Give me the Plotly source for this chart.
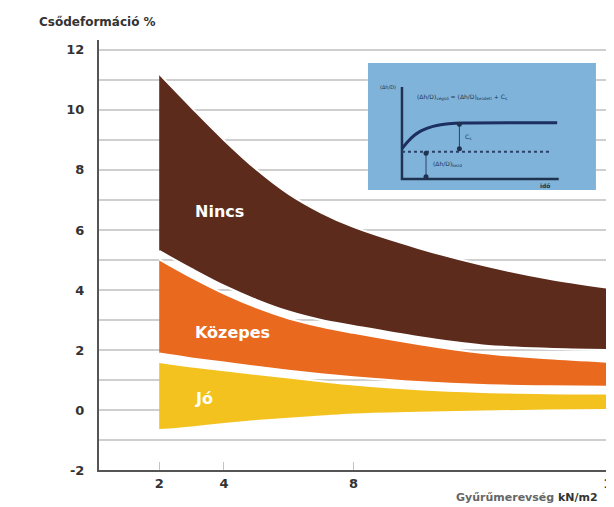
import plotly.graph_objects as go

# ---- main chart data ----
stiffness = [2, 3, 4, 5, 6, 7, 8, 10, 12, 14, 16]
nincs_top = [11.2, 10.08, 9.0, 8.02, 7.2, 6.58, 6.1, 5.4, 4.83, 4.38, 4.05]
nincs_bottom = [5.3, 4.7, 4.14, 3.67, 3.28, 3.0, 2.8, 2.43, 2.15, 2.04, 2.0]
kozepes_top = [5.02, 4.42, 3.88, 3.42, 3.05, 2.78, 2.57, 2.2, 1.9, 1.72, 1.6]
kozepes_bottom = [1.88, 1.72, 1.58, 1.44, 1.31, 1.19, 1.09, 0.93, 0.83, 0.79, 0.77]
jo_top = [1.6, 1.45, 1.32, 1.2, 1.08, 0.96, 0.85, 0.69, 0.6, 0.56, 0.55]
jo_bottom = [-0.67, -0.58, -0.47, -0.37, -0.29, -0.22, -0.15, -0.09, -0.05, -0.02, 0.0]

x_ticks = [2, 4, 8, 16]
x_ticktext = ["2", "4", "8", "16"]
y_ticks = [-2, 0, 2, 4, 6, 8, 10, 12]
y_ticktext = ["-2", "0", "2", "4", "6", "8", "10", "12"]

band_names = ["Jó", "Közepes", "Nincs"]
band_label_pos = [(3.04, 0.38), (3.04, 2.57), (3.04, 6.6)]
band_colors = ["#f3c21f", "#e9691f", "#5c2b1c"]

# ---- inset diagram data ----
inset_axis_x = [0, 0, 10.1]
inset_axis_y = [10, 0, 0]
inset_curve_x = [0, 0.4, 0.8, 1.2, 1.6, 2.0, 2.5, 3.0, 4.0, 10.0]
inset_curve_y = [3.3, 4.1, 4.75, 5.2, 5.5, 5.72, 5.9, 6.0, 6.08, 6.1]
inset_dotted_x = [0, 9.6]
inset_dotted_y = [2.97, 2.97]
inset_cs_x = [3.7, 3.7]
inset_cs_y = [5.95, 3.3]
inset_init_x = [1.55, 1.55]
inset_init_y = [2.8, 0.25]

navy = "#1d2f5e"
fig = go.Figure()

bands = [
    (jo_bottom, jo_top),
    (kozepes_bottom, kozepes_top),
    (nincs_bottom, nincs_top),
]
for (bot, top), color in zip(bands, band_colors):
    fig.add_trace(go.Scatter(x=stiffness, y=bot, mode="lines",
                             line=dict(color="white", width=2, shape="spline"),
                             hoverinfo="skip"))
    fig.add_trace(go.Scatter(x=stiffness, y=top, mode="lines", fill="tonexty",
                             fillcolor=color,
                             line=dict(color="white", width=2, shape="spline"),
                             hoverinfo="skip"))

for name, (lx, ly) in zip(band_names, band_label_pos):
    fig.add_annotation(x=lx, y=ly, xref="x", yref="y", text=name, showarrow=False,
                       xanchor="left", yanchor="middle",
                       font=dict(family="DejaVu Sans", size=16, color="white", weight="bold"))

# inset
fig.add_shape(type="rect", xref="x2", yref="y2", x0=-2.2, x1=12.5, y0=-1.2, y1=12.6,
              fillcolor="#80b3d9", line=dict(width=0), layer="below")
fig.add_trace(go.Scatter(x=inset_axis_x, y=inset_axis_y, xaxis="x2", yaxis="y2", mode="lines",
                         line=dict(color="#1f3350", width=2.5), hoverinfo="skip"))
fig.add_trace(go.Scatter(x=inset_dotted_x, y=inset_dotted_y, xaxis="x2", yaxis="y2", mode="lines",
                         line=dict(color="#2b4068", width=2, dash="dot"), hoverinfo="skip"))
fig.add_trace(go.Scatter(x=inset_curve_x, y=inset_curve_y, xaxis="x2", yaxis="y2", mode="lines",
                         line=dict(color=navy, width=3, shape="spline"), hoverinfo="skip"))
for sx, sy in [(inset_cs_x, inset_cs_y), (inset_init_x, inset_init_y)]:
    fig.add_trace(go.Scatter(x=sx, y=sy, xaxis="x2", yaxis="y2", mode="lines+markers",
                             line=dict(color="#2b4068", width=1),
                             marker=dict(color="#1f3350", size=5), hoverinfo="skip"))

inset_font = dict(family="DejaVu Sans", size=6, color="#1f3350")
fig.add_annotation(x=0.85, y=8.95, xref="x2", yref="y2", xanchor="left", showarrow=False,
                   text="(Δh/D)<sub>végső</sub> = (Δh/D)<sub>kezdeti</sub> + C<sub>s</sub>", font=inset_font)
fig.add_annotation(x=3.9, y=4.6, xref="x2", yref="y2", xanchor="left", showarrow=False,
                   text="C<sub>s</sub>", font=inset_font)
fig.add_annotation(x=1.9, y=1.6, xref="x2", yref="y2", xanchor="left", showarrow=False,
                   text="(Δh/D)<sub>kezd</sub>", font=inset_font)
fig.add_annotation(x=-0.25, y=10.0, xref="x2", yref="y2", xanchor="right", showarrow=False,
                   text="(Δh/D)", font=dict(family="DejaVu Sans", size=5, color="#1f3350"))
fig.add_annotation(x=9.2, y=-0.7, xref="x2", yref="y2", xanchor="center", showarrow=False,
                   text="idő", font=dict(family="DejaVu Sans", size=6, color="#1f3350", weight="bold"))

# titles
fig.add_annotation(x=-0.1204, y=1.042, xref="paper", yref="paper", xanchor="left", yanchor="middle",
                   showarrow=False, text="Csődeformáció %",
                   font=dict(family="DejaVu Sans", size=12, color="#333", weight="bold"))
fig.add_annotation(x=0.973, y=-0.063, xref="paper", yref="paper", xanchor="right", yanchor="middle",
                   showarrow=False,
                   text="<span style='color:#666'>Gyűrűmerevség</span> kN/m2",
                   font=dict(family="DejaVu Sans", size=11, color="#333", weight="bold"))

tickfont = dict(family="DejaVu Sans", size=13, color="#333", weight="bold")
# the page body adds an 8px offset, so the figure is 8px smaller than the window
fig.update_layout(
    width=606, height=499,
    margin=dict(l=91, r=0, t=32, b=37, autoexpand=False),
    paper_bgcolor="white", plot_bgcolor="white",
    showlegend=False,
    xaxis=dict(range=[0.14, 16.05], tickvals=x_ticks, ticktext=x_ticktext,
               showgrid=False, zeroline=False, showline=True, linecolor="#555", linewidth=2,
               ticks="inside", ticklen=8, tickcolor="#c4c4c4", tickwidth=1,
               ticklabeloverflow="allow", automargin=False,
               tickfont=tickfont, domain=[0, 1]),
    yaxis=dict(range=[-2, 12.33], tickvals=y_ticks, ticktext=y_ticktext,
               showgrid=True, gridcolor="#cfcfcf", gridwidth=2,
               minor=dict(dtick=1, tick0=0, showgrid=True, gridcolor="#cfcfcf", gridwidth=2),
               zeroline=False, showline=True, linecolor="#555", linewidth=2, automargin=False,
               ticks="", ticklabelstandoff=10, tickfont=tickfont),
    xaxis2=dict(domain=[0.522, 0.965], anchor="y2", range=[-2.2, 12.5], visible=False),
    yaxis2=dict(domain=[0.651, 0.9465], anchor="x2", range=[-1.2, 12.6], visible=False),
)

fig.write_html("out.html", config={"displayModeBar": False})
